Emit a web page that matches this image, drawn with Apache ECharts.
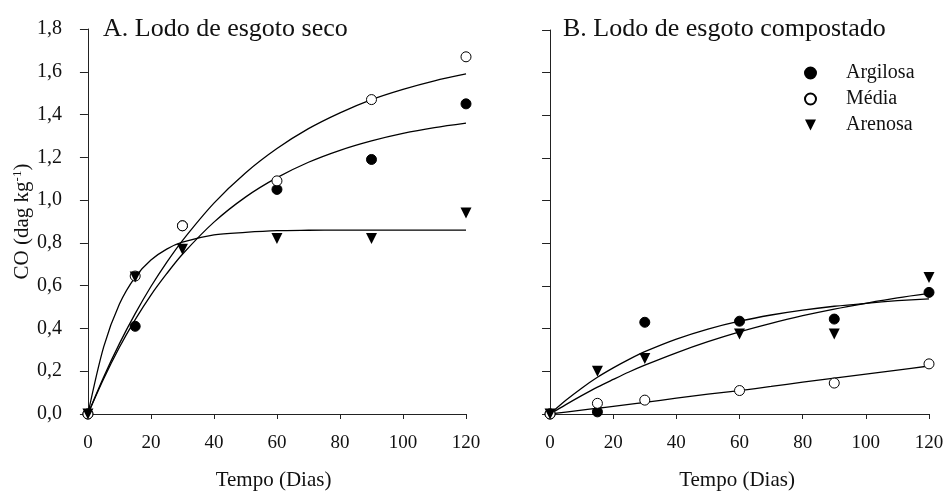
<!DOCTYPE html>
<html>
<head>
<meta charset="utf-8">
<script src="https://cdn.jsdelivr.net/npm/echarts@6/dist/echarts.min.js"></script>
<style>html,body{margin:0;padding:0;background:#fff;}#c{width:945px;height:491px;}</style>
</head>
<body>
<div id="c"></div>
<script>
// ---- data ----
const days = [0, 15, 30, 60, 90, 120];
const xTicks = [0, 20, 40, 60, 80, 100, 120];
const yTicks = [0, 0.2, 0.4, 0.6, 0.8, 1.0, 1.2, 1.4, 1.6, 1.8];
const seriesNames = ['Argilosa', 'Média', 'Arenosa'];
const panelTitles = ['A. Lodo de esgoto seco', 'B. Lodo de esgoto compostado'];

// Panel A observed
const aArgilosa = [0, 0.41, 0.88, 1.05, 1.19, 1.45];
const aMedia    = [0, 0.645, 0.88, 1.09, 1.47, 1.67];
const aArenosa  = [0, 0.64, 0.77, 0.82, 0.82, 0.94];
// Panel B observed
const bArgilosa = [0, 0.01, 0.43, 0.435, 0.445, 0.57];
const bMedia    = [0, 0.05, 0.065, 0.11, 0.145, 0.235];
const bArenosa  = [0, 0.20, 0.26, 0.375, 0.375, 0.64];

// fitted curves
const curveX = [0, 5, 10, 15, 20, 25, 30, 40, 50, 60, 70, 80, 90, 100, 110, 120];
const aArgilosaFit = [0, 0.165, 0.312, 0.441, 0.556, 0.656, 0.747, 0.897, 1.014, 1.105, 1.177, 1.233, 1.277, 1.312, 1.339, 1.36];
const aMediaFit    = [0, 0.173, 0.329, 0.469, 0.596, 0.709, 0.811, 0.986, 1.127, 1.241, 1.334, 1.408, 1.47, 1.518, 1.558, 1.59];
const aArenosaFit  = [0, 0.314, 0.514, 0.64, 0.72, 0.771, 0.803, 0.837, 0.849, 0.857, 0.859, 0.86, 0.86, 0.86, 0.86, 0.86];
const bArgilosaFit = [0, 0.064, 0.121, 0.172, 0.216, 0.256, 0.292, 0.351, 0.398, 0.435, 0.464, 0.487, 0.505, 0.519, 0.531, 0.54];
const bMediaFit    = [0, 0.009, 0.018, 0.027, 0.036, 0.045, 0.054, 0.074, 0.093, 0.11, 0.129, 0.149, 0.168, 0.187, 0.206, 0.225];
const bArenosaFit  = [0, 0.044, 0.086, 0.126, 0.162, 0.197, 0.229, 0.287, 0.339, 0.385, 0.425, 0.461, 0.492, 0.519, 0.544, 0.565];

// ---- build ----
const FONT = '"Liberation Serif", "DejaVu Serif", serif';
const INK = '#111';
const pair = (xs, ys) => xs.map((x, i) => [x, ys[i]]);

const markerStyles = [
  { symbol: 'circle', symbolSize: 10, symbolRotate: 0, itemStyle: { color: '#000', borderColor: '#000', borderWidth: 1, opacity: 1 } },
  { symbol: 'circle', symbolSize: 10, symbolRotate: 0, itemStyle: { color: '#fff', borderColor: '#000', borderWidth: 1, opacity: 1 } },
  { symbol: 'triangle', symbolSize: 11, symbolRotate: 180, itemStyle: { color: '#000', borderColor: '#000', borderWidth: 0, opacity: 1 } }
];

function xAxis(gridIndex, min) {
  return {
    type: 'value', gridIndex, min, max: 120,
    name: 'Tempo (Dias)', nameLocation: 'middle', nameGap: 56,
    nameTextStyle: { fontFamily: FONT, fontSize: 21, color: INK },
    axisLine: { show: true, lineStyle: { color: '#222', width: 1 } },
    axisTick: { show: true, length: 5, inside: false, customValues: xTicks, lineStyle: { color: '#222' } },
    axisLabel: { customValues: xTicks, margin: 20, fontFamily: FONT, fontSize: 19, color: INK },
    splitLine: { show: false }
  };
}
function yAxis(gridIndex, showLabels) {
  const ax = {
    type: 'value', gridIndex, min: 0, max: 1.8, interval: 0.2,
    axisLine: { show: true, lineStyle: { color: '#222', width: 1 } },
    axisTick: { show: true, length: 8, lineStyle: { color: '#222' } },
    axisLabel: {
      show: showLabels, margin: 19, fontFamily: FONT, fontSize: 20, color: INK,
      formatter: v => v.toFixed(1).replace('.', ',')
    },
    splitLine: { show: false }
  };
  if (showLabels) {
    ax.name = '{a|CO (dag kg}{s|-1}{a|)}';
    ax.nameLocation = 'middle';
    ax.nameRotate = 90;
    ax.nameGap = 45;
    ax.nameTextStyle = {
      rich: {
        a: { fontFamily: FONT, fontSize: 21, color: INK },
        s: { fontFamily: FONT, fontSize: 13, color: INK, padding: [0, 0, 10, 0] }
      }
    };
  }
  return ax;
}

const obs = [[aArgilosa, aMedia, aArenosa], [bArgilosa, bMedia, bArenosa]];
const fits = [[aArgilosaFit, aMediaFit, aArenosaFit], [bArgilosaFit, bMediaFit, bArenosaFit]];
const series = [];
for (let p = 0; p < 2; p++) {
  for (let s = 0; s < 3; s++) {
    series.push({
      type: 'line', name: seriesNames[s] + ' ajuste', xAxisIndex: p, yAxisIndex: p,
      data: pair(curveX, fits[p][s]), smooth: 0.3, showSymbol: false, symbol: 'none',
      lineStyle: { color: '#000', width: 1.3 }, z: 1, silent: true
    });
  }
}
for (let p = 0; p < 2; p++) {
  for (let s = 0; s < 3; s++) {
    const m = markerStyles[s];
    series.push({
      type: 'scatter', name: seriesNames[s], xAxisIndex: p, yAxisIndex: p,
      data: pair(days, obs[p][s]), symbol: m.symbol, symbolSize: m.symbolSize,
      symbolRotate: m.symbolRotate, itemStyle: m.itemStyle, z: 3 + s
    });
  }
}

const chart = echarts.init(document.getElementById('c'), null, { renderer: 'canvas' });
chart.setOption({
  backgroundColor: '#fff',
  animation: false,
  title: [
    { text: panelTitles[0], left: 103, top: 16, padding: 0, textStyle: { fontFamily: FONT, fontSize: 26, fontWeight: 'normal', color: INK } },
    { text: panelTitles[1], left: 563, top: 16, padding: 0, textStyle: { fontFamily: FONT, fontSize: 26, fontWeight: 'normal', color: INK } }
  ],
  legend: {
    data: seriesNames.map((n, i) => ({ name: n, icon: markerStyles[i].symbol === 'triangle' ? 'path://M0,0 L10,0 L5,10 Z' : 'circle' })),
    orient: 'vertical', left: 804, top: 63, padding: 0, itemWidth: 11, itemHeight: 11, itemGap: 6,
    textStyle: { fontFamily: FONT, fontSize: 20, color: INK, padding: [0, 0, 0, 25], lineHeight: 20 },
    selectedMode: false
  },
  grid: [
    { left: 81, right: 479, top: 29, bottom: 77, outerBoundsMode: 'none', containLabel: false },
    { left: 545, right: 16, top: 30, bottom: 77, outerBoundsMode: 'none', containLabel: false }
  ],
  xAxis: [xAxis(0, -2.2), xAxis(1, -1.6)],
  yAxis: [yAxis(0, true), yAxis(1, false)],
  series
});
</script>
</body>
</html>
